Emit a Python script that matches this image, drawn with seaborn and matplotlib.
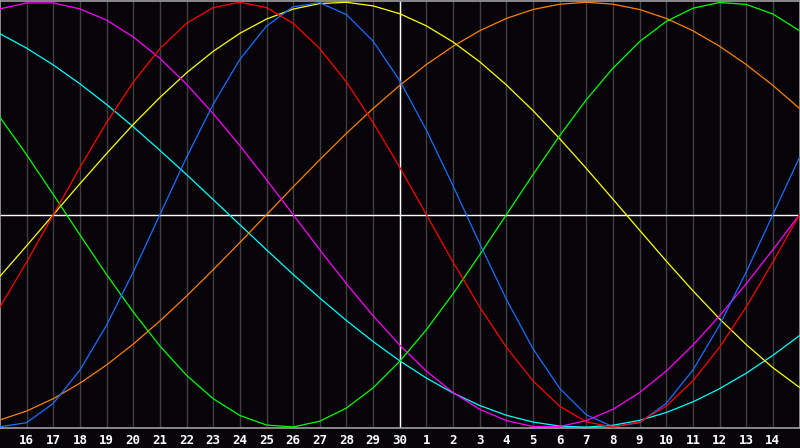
import matplotlib
matplotlib.use("Agg")
import matplotlib.pyplot as plt
import seaborn as sns
import pandas as pd

# Day index 0..30 (day 15 of month to day 15 of next month)
days = list(range(31))
tick_pos = list(range(1, 30))
tick_labels = ["16", "17", "18", "19", "20", "21", "22", "23", "24", "25", "26", "27", "28", "29", "30",
               "1", "2", "3", "4", "5", "6", "7", "8", "9", "10", "11", "12", "13", "14"]

red = [-0.434, -0.223, 0.0, 0.223, 0.434, 0.624, 0.782, 0.901, 0.975, 1.0, 0.975, 0.901, 0.782, 0.624,
       0.434, 0.223, 0.0, -0.223, -0.434, -0.624, -0.782, -0.901, -0.975, -1.0, -0.975, -0.901, -0.782,
       -0.624, -0.434, -0.223, 0.0]
blue = [-0.998, -0.979, -0.888, -0.731, -0.520, -0.270, 0.0, 0.270, 0.520, 0.731, 0.888, 0.979, 0.998,
        0.942, 0.817, 0.631, 0.398, 0.136, -0.136, -0.398, -0.631, -0.817, -0.942, -0.998, -0.979,
        -0.888, -0.731, -0.520, -0.270, 0.0, 0.270]
green = [0.458, 0.282, 0.095, -0.095, -0.282, -0.458, -0.618, -0.756, -0.866, -0.945, -0.990, -0.999,
         -0.972, -0.910, -0.815, -0.690, -0.541, -0.372, -0.189, 0.0, 0.189, 0.372, 0.541, 0.690, 0.815,
         0.910, 0.972, 0.999, 0.990, 0.945, 0.866]
magenta = [0.969, 0.997, 0.997, 0.969, 0.916, 0.837, 0.736, 0.614, 0.476, 0.325, 0.165, 0.0, -0.165,
           -0.325, -0.476, -0.614, -0.736, -0.837, -0.916, -0.969, -0.997, -0.997, -0.969, -0.916,
           -0.837, -0.736, -0.614, -0.476, -0.325, -0.165, 0.0]
yellow = [-0.290, -0.146, 0.0, 0.146, 0.288, 0.425, 0.552, 0.668, 0.769, 0.854, 0.921, 0.968, 0.994,
          1.0, 0.983, 0.946, 0.889, 0.813, 0.720, 0.611, 0.490, 0.358, 0.218, 0.073, -0.073, -0.218,
          -0.358, -0.490, -0.611, -0.720, -0.813]
orange = [-0.966, -0.924, -0.866, -0.793, -0.707, -0.609, -0.5, -0.383, -0.259, -0.131, 0.0, 0.131,
          0.259, 0.383, 0.5, 0.609, 0.707, 0.793, 0.866, 0.924, 0.966, 0.991, 1.0, 0.991, 0.966, 0.924,
          0.866, 0.793, 0.707, 0.609, 0.5]
cyan = [0.852, 0.784, 0.705, 0.616, 0.519, 0.414, 0.303, 0.189, 0.071, -0.047, -0.165, -0.281, -0.392,
        -0.498, -0.597, -0.688, -0.769, -0.839, -0.898, -0.944, -0.976, -0.995, -1.0, -0.991, -0.968,
        -0.931, -0.881, -0.819, -0.746, -0.662, -0.569]

series = {
    "cyan": (cyan, "#00ffff"),
    "orange": (orange, "#ff8000"),
    "yellow": (yellow, "#ffff00"),
    "magenta": (magenta, "#ff00ff"),
    "green": (green, "#00ff00"),
    "blue": (blue, "#1a6eff"),
    "red": (red, "#ff0000"),
}

sns.set_style("dark")
bg = "#060408"
fig = plt.figure(figsize=(8.0, 4.48), dpi=100, facecolor=bg)
ax = fig.add_axes([0.0, 20 / 448, 799.5 / 800, 427 / 448])
ax.set_facecolor(bg)

for i in tick_pos:
    ax.axvline(i, color="#404040", lw=1.0, zorder=1)
ax.axvline(15, color="white", lw=1.0, zorder=2)
ax.axhline(0, color="white", lw=1.0, zorder=2)

for name, (vals, col) in series.items():
    df = pd.DataFrame({"day": days, "value": vals})
    sns.lineplot(data=df, x="day", y="value", color=col, lw=0.9, ax=ax, zorder=3)

ax.set_xlim(0, 30)
ax.set_ylim(-1.004, 1.006)
ax.set_xticks(tick_pos)
ax.set_xticklabels(tick_labels, color="white", fontsize=9, fontweight="bold",
                   family=["DejaVu Sans Mono"])
ax.set_yticks([])
ax.tick_params(axis="x", length=0, pad=4)
ax.set_xlabel("")
ax.set_ylabel("")
ax.grid(False)
for s in ax.spines.values():
    s.set_visible(True)
    s.set_color("#a0a0a0")
    s.set_linewidth(1.2)

fig.savefig("out.png", dpi=100, facecolor=bg)
